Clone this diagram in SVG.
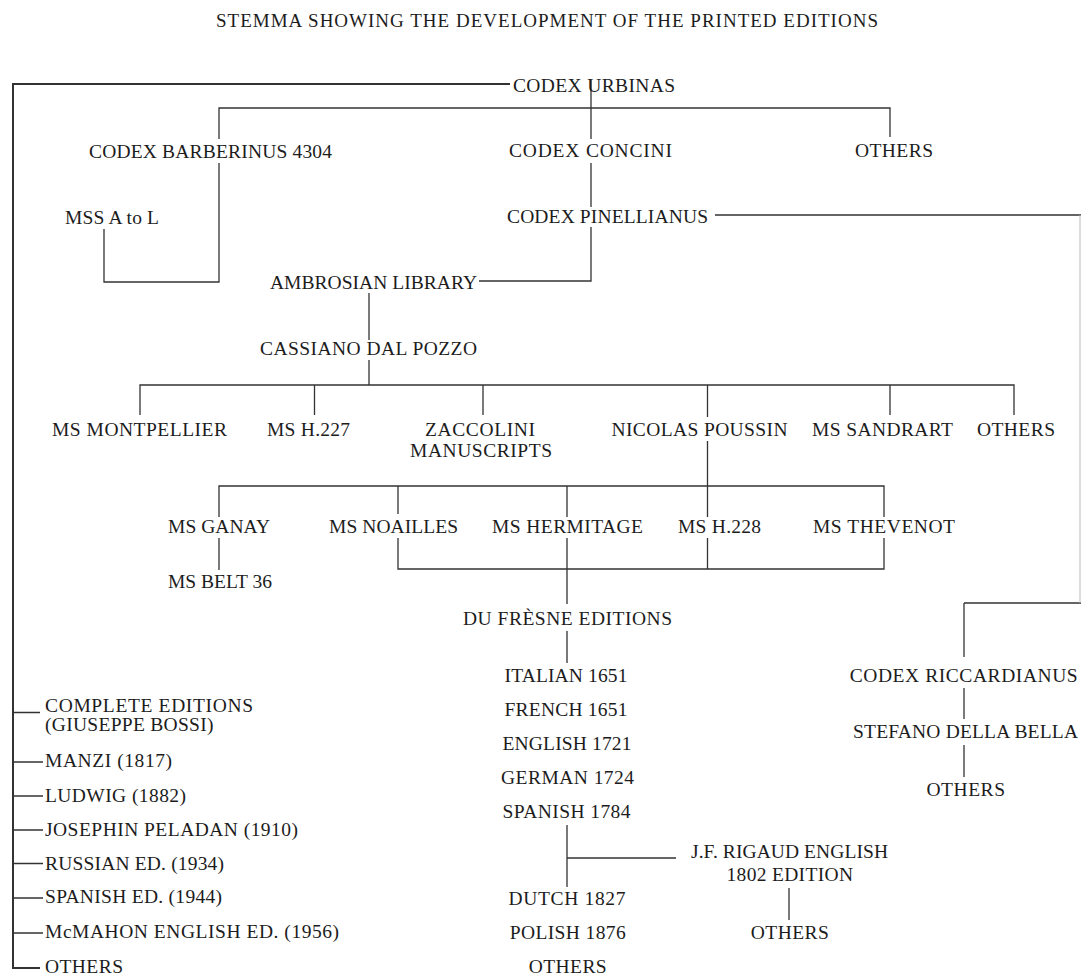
<svg xmlns="http://www.w3.org/2000/svg" width="1083" height="976" viewBox="0 0 1083 976">
<style>
text{font-family:"Liberation Serif","Times New Roman",serif;font-size:19.5px;fill:#1c1c1c}
.t{font-size:19px}
.c{fill:none;stroke:#333;stroke-width:1.3}
.k{fill:none;stroke:#333;stroke-width:2}
.f{fill:none;stroke:#bbb;stroke-width:1}
</style>
<rect width="1083" height="976" fill="#fff"/>
<text id="title" class="t" x="216" y="27" textLength="662">STEMMA SHOWING THE DEVELOPMENT OF THE PRINTED EDITIONS</text>
<g id="connectors">
<path class="k" d="M510 84H13V968H40"/>
<path class="c" d="M13 712.5H40M13 762H43M13 796H43M13 830H43M13 863.5H43M13 898H43M13 933H43"/>
<path class="c" d="M591 80V139M591 163V207M591 227V281H479"/>
<path class="c" d="M219 139V108H890V137M219 163V282H104V229"/>
<path class="c" d="M715 215H1081M964 603H1081M964 603V657M964 688V719M964 745V777"/>
<path class="f" d="M1080 215V603"/>
<path class="c" d="M369 293V340M369 360V385M140 415V385H1014V415M314.5 385V415M483 385V415M890 385V415"/>
<path class="c" d="M707.5 385V417M707.5 441V517M707.5 538V569"/>
<path class="c" d="M219 517V486H884V517M219 538V570M398 486V514M567 486V517M398 538V569H884V538M567 538V604M567 631V663"/>
<path class="c" d="M567 825V887M567 858H676M789 888V920"/>
</g>
<g id="n-urbinas"><text x="513" y="92" textLength="162">CODEX URBINAS</text></g>
<g id="n-barberinus"><text x="89" y="158" textLength="243">CODEX BARBERINUS 4304</text></g>
<g id="n-concini"><text x="509" y="157" textLength="163">CODEX CONCINI</text></g>
<g id="n-others1"><text x="855" y="157" textLength="78">OTHERS</text></g>
<g id="n-mss"><text x="65" y="224" textLength="94">MSS A to L</text></g>
<g id="n-pinellianus"><text x="507" y="223" textLength="201">CODEX PINELLIANUS</text></g>
<g id="n-ambrosian"><text x="270" y="289" textLength="207">AMBROSIAN LIBRARY</text></g>
<g id="n-cassiano"><text x="260" y="355" textLength="217">CASSIANO DAL POZZO</text></g>
<g id="n-montpellier"><text x="52" y="436" textLength="175">MS MONTPELLIER</text></g>
<g id="n-h227"><text x="267" y="436" textLength="83">MS H.227</text></g>
<g id="n-zaccolini"><text x="425" y="436" textLength="110">ZACCOLINI</text><text x="410" y="457" textLength="142">MANUSCRIPTS</text></g>
<g id="n-poussin"><text x="611.5" y="436" textLength="176">NICOLAS POUSSIN</text></g>
<g id="n-sandrart"><text x="812" y="436" textLength="141">MS SANDRART</text></g>
<g id="n-others2"><text x="977" y="436" textLength="78">OTHERS</text></g>
<g id="n-ganay"><text x="168" y="533" textLength="102">MS GANAY</text></g>
<g id="n-belt"><text x="168" y="588" textLength="104">MS BELT 36</text></g>
<g id="n-noailles"><text x="329" y="533" textLength="129">MS NOAILLES</text></g>
<g id="n-hermitage"><text x="492" y="533" textLength="151">MS HERMITAGE</text></g>
<g id="n-h228"><text x="678" y="533" textLength="83">MS H.228</text></g>
<g id="n-thevenot"><text x="813" y="533" textLength="142">MS THEVENOT</text></g>
<g id="n-dufresne"><text x="463" y="625" textLength="209">DU FRÈSNE EDITIONS</text></g>
<g id="n-italian"><text x="504.5" y="682" textLength="123">ITALIAN 1651</text></g>
<g id="n-french"><text x="504.5" y="716" textLength="123">FRENCH 1651</text></g>
<g id="n-english"><text x="502.5" y="750" textLength="129">ENGLISH 1721</text></g>
<g id="n-german"><text x="501" y="784" textLength="133">GERMAN 1724</text></g>
<g id="n-spanish"><text x="502.5" y="818" textLength="128">SPANISH 1784</text></g>
<g id="n-dutch"><text x="508.5" y="905" textLength="117">DUTCH 1827</text></g>
<g id="n-polish"><text x="509.7" y="939" textLength="116">POLISH 1876</text></g>
<g id="n-others3"><text x="528.7" y="973" textLength="78">OTHERS</text></g>
<g id="n-rigaud"><text x="691" y="858" textLength="197">J.F. RIGAUD ENGLISH</text><text x="726.5" y="881" textLength="126.5">1802 EDITION</text></g>
<g id="n-others4"><text x="750.8" y="939" textLength="78">OTHERS</text></g>
<g id="n-riccardianus"><text x="849.7" y="682" textLength="228">CODEX RICCARDIANUS</text></g>
<g id="n-stefano"><text x="853" y="738" textLength="225">STEFANO DELLA BELLA</text></g>
<g id="n-others5"><text x="926.4" y="796" textLength="78.6">OTHERS</text></g>
<g id="n-complete"><text x="45" y="712" textLength="208">COMPLETE EDITIONS</text><text x="45" y="731" textLength="168.5">(GIUSEPPE BOSSI)</text></g>
<g id="n-manzi"><text x="45" y="767" textLength="127">MANZI (1817)</text></g>
<g id="n-ludwig"><text x="45" y="802" textLength="141">LUDWIG (1882)</text></g>
<g id="n-peladan"><text x="45" y="836" textLength="253">JOSEPHIN PELADAN (1910)</text></g>
<g id="n-russian"><text x="45" y="870" textLength="179">RUSSIAN ED. (1934)</text></g>
<g id="n-spanished"><text x="45" y="903" textLength="177">SPANISH ED. (1944)</text></g>
<g id="n-mcmahon"><text x="45" y="938" textLength="294">McMAHON ENGLISH ED. (1956)</text></g>
<g id="n-others6"><text x="45" y="973" textLength="78">OTHERS</text></g>
</svg>
